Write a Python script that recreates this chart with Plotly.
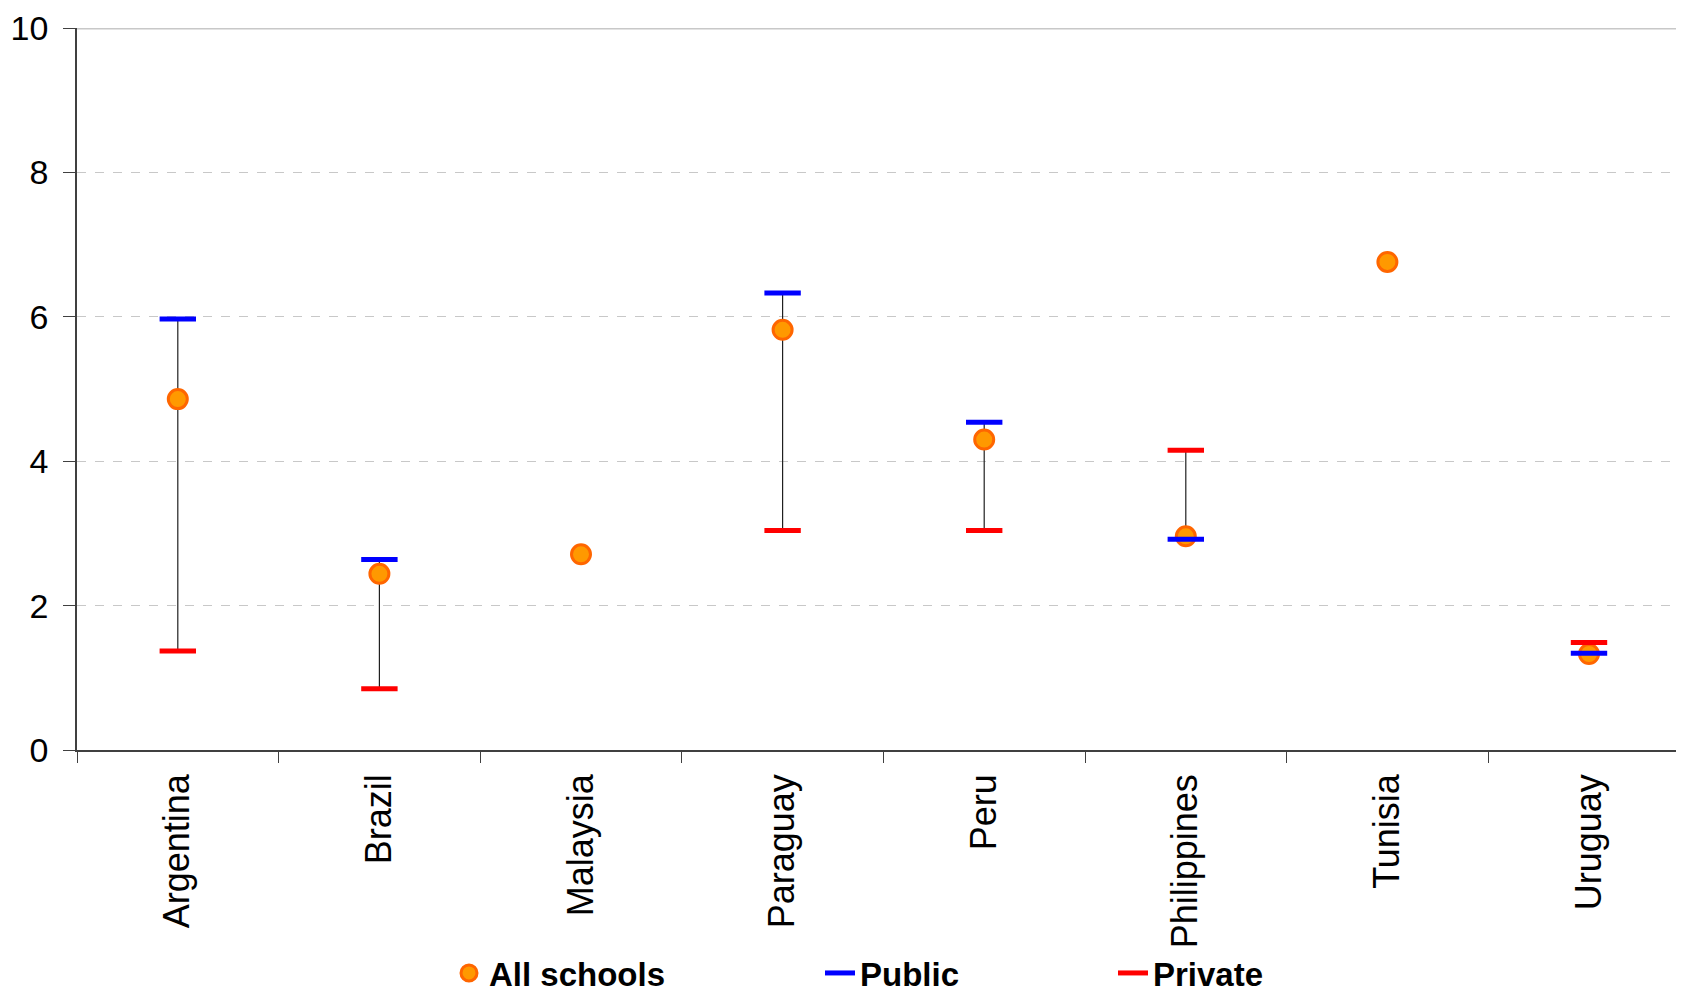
import plotly.graph_objects as go

countries = ["Argentina", "Brazil", "Malaysia", "Paraguay", "Peru",
             "Philippines", "Tunisia", "Uruguay"]
all_schools = [4.86, 2.44, 2.71, 5.82, 4.30, 2.96, 6.76, 1.33]
public = [5.97, 2.64, None, 6.33, 4.54, 2.92, None, 1.34]
private = [1.37, 0.85, None, 3.04, 3.04, 4.15, None, 1.49]
y_ticks = [0, 2, 4, 6, 8, 10]

FONT = "Liberation Sans, Arial, sans-serif"
AXIS_COLOR = "#404040"

# range connector lines between public and private values
lx, ly = [], []
for c, p, q in zip(countries, public, private):
    if p is None or q is None:
        continue
    lx += [c, c, None]
    ly += [p, q, None]

fig = go.Figure()
fig.add_trace(go.Scatter(x=lx, y=ly, mode="lines",
                         line=dict(color="#202020", width=1.2),
                         showlegend=False, hoverinfo="skip"))
fig.add_trace(go.Scatter(x=countries, y=all_schools, mode="markers",
                         name="All schools", legend="legend",
                         marker=dict(symbol="circle", size=19, color="#FF9900",
                                     line=dict(color="#FF6600", width=3))))
fig.add_trace(go.Scatter(x=countries, y=public, mode="markers",
                         name="Public", showlegend=False,
                         marker=dict(symbol="line-ew", size=26,
                                     line=dict(color="#0000FF", width=5))))
fig.add_trace(go.Scatter(x=countries, y=private, mode="markers",
                         name="Private", showlegend=False,
                         marker=dict(symbol="line-ew", size=26,
                                     line=dict(color="#FF0000", width=5))))
# legend entries for the dash series
fig.add_trace(go.Scatter(x=[None], y=[None], mode="lines", name="Public",
                         legend="legend2", line=dict(color="#0000FF", width=5)))
fig.add_trace(go.Scatter(x=[None], y=[None], mode="lines", name="Private",
                         legend="legend3", line=dict(color="#FF0000", width=5)))

OFF = 8  # page body margin
W, H = 1684 - OFF, 995 - OFF
L, R, T, B = 77 - OFF, 0, 28 - OFF, 245
pw = W - L - R

legend_font = dict(family=FONT, size=33, color="black", weight="bold")
common_leg = dict(orientation="h", yanchor="middle", xanchor="left",
                  xref="container", yref="container",
                  font=legend_font, bgcolor="rgba(0,0,0,0)", borderwidth=0)
LEG_Y = 1 - (973 - OFF) / H

def leg_x(center_px):
    return (center_px - 20 - OFF) / W

fig.update_layout(
    width=W, height=H,
    margin=dict(l=L, r=R, t=T, b=B, pad=0, autoexpand=False),
    plot_bgcolor="white", paper_bgcolor="white",
    font=dict(family=FONT, color="black"),
    legend=dict(x=leg_x(469), y=LEG_Y, **common_leg),
    legend2=dict(x=leg_x(840), y=LEG_Y, **common_leg),
    legend3=dict(x=leg_x(1133), y=LEG_Y, **common_leg),
    xaxis=dict(
        type="category", categoryorder="array", categoryarray=countries,
        range=[-0.5, -0.5 + pw / 201.6], automargin=False,
        showgrid=False, zeroline=False,
        showline=True, linecolor=AXIS_COLOR, linewidth=1.5,
        ticks="outside", tickson="boundaries", ticklen=11,
        tickcolor=AXIS_COLOR, tickwidth=1,
        tickangle=-90, ticklabelstandoff=8,
        tickfont=dict(family=FONT, size=36, color="black"),
    ),
    yaxis=dict(
        range=[0, 10], tickvals=y_ticks, ticktext=[str(v) for v in y_ticks],
        automargin=False,
        showgrid=True, gridcolor="#C8C8C8", griddash="dash", gridwidth=1,
        zeroline=False,
        showline=True, linecolor=AXIS_COLOR, linewidth=1.5,
        ticks="outside", ticklen=12, tickcolor=AXIS_COLOR, tickwidth=1,
        ticklabelstandoff=8,
        tickfont=dict(family=FONT, size=34, color="black"),
    ),
    shapes=[dict(type="line", xref="paper", yref="y", x0=0, x1=1, y0=10, y1=10,
                 line=dict(color="#C8C8C8", width=3), layer="below")],
)

fig.write_html("out.html")
